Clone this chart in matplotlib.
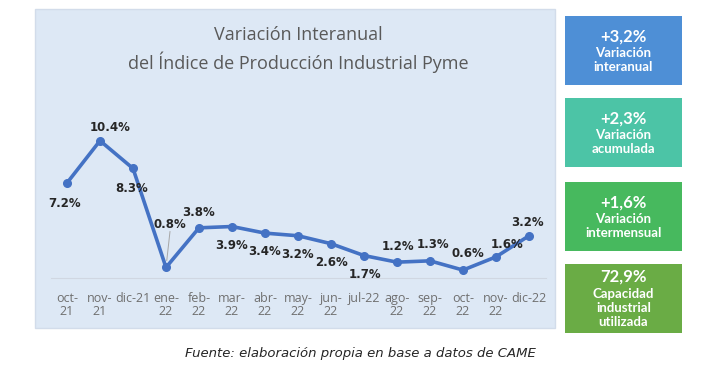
import numpy as np
import matplotlib.pyplot as plt
from matplotlib.patches import Rectangle

months = ["oct-\n21", "nov-\n21", "dic-21", "ene-\n22", "feb-\n22", "mar-\n22", "abr-\n22",
          "may-\n22", "jun-\n22", "jul-22", "ago-\n22", "sep-\n22", "oct-\n22", "nov-\n22", "dic-22"]
values = [7.2, 10.4, 8.3, 0.8, 3.8, 3.9, 3.4, 3.2, 2.6, 1.7, 1.2, 1.3, 0.6, 1.6, 3.2]
# label offsets in pixels (dx, dy)
offsets = [(-2, -21), (10, 13), (-1, -20), (4, 43), (0, 15), (0, -19), (0, -18), (0, -19),
           (0, -19), (1, -19), (1, 16), (3, 16), (5, 17), (11, 12), (-1, 13)]

box_values = ["+3,2%", "+2,3%", "+1,6%", "72,9%"]
box_labels = ["Variación\ninteranual", "Variación\nacumulada", "Variación\nintermensual",
              "Capacidad\nindustrial\nutilizada"]
box_colors = ["#4e8fd6", "#4cc4a6", "#47b95e", "#6aac45"]

W, H = 706, 369
fig = plt.figure(figsize=(W / 100, H / 100), dpi=100)
fig.patch.set_facecolor("white")

def fx(px):
    return px / W

def fy(py):
    return 1 - py / H

# chart panel
fig.patches.append(Rectangle((fx(35), fy(328)), fx(555) - fx(35), fy(9) - fy(328),
                             transform=fig.transFigure, facecolor="#dde8f5",
                             edgecolor="#d2dcea", lw=1, zorder=0))

fig.text(fx(298), fy(35), "Variación Interanual", ha="center", va="center",
         fontsize=13, color="#595959", family="Open Sans")
fig.text(fx(298), fy(62), "del Índice de Producción Industrial Pyme", ha="center", va="center",
         fontsize=13, color="#595959", family="Open Sans")

# axes: x from 50.5 to 545.5 px, y 0 at 278 px, 13.2 px per unit
ax_left, ax_right = 50.5, 545.5
ax_bottom, ax_top = 278, 100
ax = fig.add_axes([fx(ax_left), fy(ax_bottom), fx(ax_right) - fx(ax_left), fy(ax_top) - fy(ax_bottom)])
ax.set_zorder(3)
ax.set_facecolor("none")
x = np.arange(len(values))
ax.set_xlim(-0.5, len(values) - 0.5)
ax.set_ylim(0, (ax_bottom - ax_top) / 13.2)
ax.plot(x, values, color="#4472c4", lw=2.6, marker="o", ms=5.5, zorder=3, clip_on=False)
for s in ["top", "right", "left"]:
    ax.spines[s].set_visible(False)
ax.spines["bottom"].set_color("#d0d7e2")
ax.set_yticks([])
ax.set_xticks(x)
ax.set_xticklabels(months, fontsize=9, color="#6f6f6f", family="Open Sans", linespacing=1.05)
ax.tick_params(axis="x", length=0, pad=10)

for i, (v, (dx, dy)) in enumerate(zip(values, offsets)):
    ax.annotate(f"{v:.1f}%", (i, v), xytext=(dx, dy), textcoords="offset pixels",
                ha="center", va="center", fontsize=8.5, fontweight="bold", color="#262626",
                family="DejaVu Sans")
# leader line for ene-22
ax.annotate("", (3, values[3]), xytext=(4, 36), textcoords="offset pixels",
            arrowprops=dict(arrowstyle="-", color="#a6a6a6", lw=0.7, shrinkA=0, shrinkB=5))

# right boxes
box_tops = [16, 98, 182, 264]
for top, val, lab, col in zip(box_tops, box_values, box_labels, box_colors):
    fig.patches.append(Rectangle((fx(565), fy(top + 69)), fx(682) - fx(565), fy(top) - fy(top + 69),
                                 transform=fig.transFigure, facecolor=col, edgecolor="none"))
    nlines = lab.count("\n") + 1
    if nlines == 2:
        yv, yl = top + 21, top + 44
    else:
        yv, yl = top + 13, top + 44
    fig.text(fx(623.5), fy(yv), val, ha="center", va="center", fontsize=12,
             fontweight="bold", color="white", family="Lato")
    fig.text(fx(623.5), fy(yl), lab, ha="center", va="center", fontsize=9.5,
             fontweight="bold", color="white", family="Lato", linespacing=1.25)

fig.text(fx(360), fy(353), "Fuente: elaboración propia en base a datos de CAME", ha="center",
         va="center", fontsize=9.5, style="italic", color="#262626", family="DejaVu Sans")

fig.savefig("out.png", dpi=100)
